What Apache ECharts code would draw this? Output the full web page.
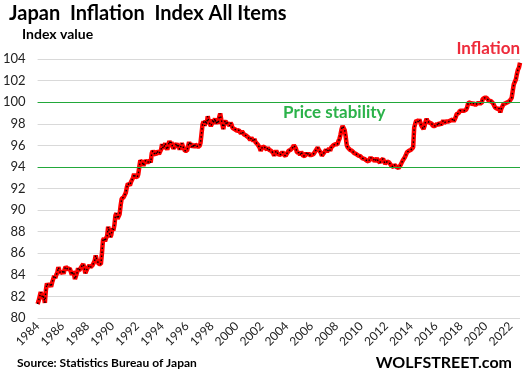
<!DOCTYPE html>
<html><head><meta charset="utf-8">
<script src="https://cdn.jsdelivr.net/npm/echarts@6/dist/echarts.min.js"></script>
<style>html,body{margin:0;padding:0;background:#fff}#c{width:524px;height:378px}</style>
</head><body><div id="c"></div>
<script>
const startYear = 1984;
const y1984 = [81.3, 81.6, 82.0, 82.4, 82.1, 81.8, 82.0, 81.4, 82.6, 83.2, 83.0, 83.1];
const y1985 = [83.1, 82.9, 83.3, 83.6, 83.9, 83.7, 84.0, 84.2, 84.7, 84.4, 84.15, 84.3];
const y1986 = [84.3, 84.1, 84.5, 84.75, 84.8, 84.5, 84.4, 84.6, 84.3, 84.0, 84.3, 84.1];
const y1987 = [83.6, 83.7, 84.2, 84.6, 84.4, 84.3, 84.7, 84.8, 85.0, 84.6, 84.15, 84.3];
const y1988 = [84.6, 84.5, 84.9, 84.7, 84.8, 84.9, 85.0, 85.3, 85.8, 85.4, 85.2, 85.0];
const y1989 = [84.9, 85.0, 86.0, 87.2, 87.4, 87.1, 87.4, 87.6, 88.45, 88.0, 87.5, 87.7];
const y1990 = [88.3, 88.1, 88.6, 89.5, 89.7, 89.2, 89.3, 89.6, 90.4, 91.05, 90.9, 91.2];
const y1991 = [91.3, 91.6, 92.1, 92.45, 92.6, 92.3, 92.6, 92.8, 93.0, 93.35, 93.1, 93.05];
const y1992 = [93.05, 93.3, 94.0, 94.6, 94.7, 94.4, 94.1, 94.4, 94.6, 94.5, 94.4, 94.3];
const y1993 = [94.6, 94.4, 95.25, 95.5, 95.3, 95.4, 95.1, 95.5, 95.6, 95.2, 95.3, 95.6];
const y1994 = [96.1, 95.7, 95.9, 96.2, 95.8, 95.6, 96.0, 96.4, 96.1, 96.3, 95.9, 95.7];
const y1995 = [95.6, 96.0, 96.2, 95.8, 96.0, 95.6, 95.9, 96.2, 95.9, 95.7, 95.5, 95.35];
const y1996 = [95.5, 95.9, 96.3, 96.0, 96.2, 95.8, 96.0, 95.8, 96.1, 96.2, 95.9, 96.0];
const y1997 = [95.9, 96.2, 96.1, 97.95, 98.2, 97.8, 98.3, 98.0, 98.7, 98.2, 98.0, 97.8];
const y1998 = [98.0, 98.4, 98.1, 98.5, 98.0, 98.3, 98.0, 98.6, 98.95, 98.4, 98.0, 97.5];
const y1999 = [98.1, 98.3, 97.9, 98.1, 98.0, 97.8, 98.1, 97.9, 97.6, 97.7, 97.5, 97.5];
const y2000 = [97.35, 97.2, 97.4, 97.3, 97.1, 97.3, 97.2, 97.0, 97.1, 96.9, 96.8, 96.75];
const y2001 = [96.7, 96.5, 96.7, 96.6, 96.4, 96.6, 96.3, 96.4, 96.1, 96.0, 95.8, 95.5];
const y2002 = [95.6, 95.9, 96.0, 95.8, 95.9, 95.6, 95.8, 95.6, 95.7, 95.5, 95.6, 95.3];
const y2003 = [95.05, 95.2, 95.5, 95.3, 95.4, 95.1, 95.0, 95.2, 95.4, 95.2, 95.1, 95.0];
const y2004 = [95.2, 95.3, 95.5, 95.4, 95.6, 95.5, 95.8, 96.0, 96.1, 95.7, 95.35, 95.3];
const y2005 = [95.3, 95.1, 95.4, 95.2, 95.0, 95.1, 95.05, 95.3, 95.1, 95.3, 95.1, 95.0];
const y2006 = [95.1, 95.0, 95.2, 95.3, 95.5, 95.4, 95.8, 95.6, 95.5, 95.3, 95.05, 95.2];
const y2007 = [95.3, 95.4, 95.6, 95.4, 95.5, 95.7, 95.5, 95.8, 95.9, 96.0, 95.9, 96.1];
const y2008 = [96.0, 96.1, 96.4, 96.6, 97.0, 97.5, 97.8, 97.7, 97.4, 96.8, 96.0, 95.8];
const y2009 = [95.8, 95.6, 95.7, 95.5, 95.6, 95.3, 95.4, 95.2, 95.3, 95.05, 95.1, 95.0];
const y2010 = [94.9, 94.8, 94.9, 94.75, 94.8, 94.6, 94.7, 94.5, 94.7, 94.9, 94.7, 94.6];
const y2011 = [94.7, 94.5, 94.6, 94.8, 94.6, 94.7, 94.4, 94.6, 94.7, 94.75, 94.5, 94.3];
const y2012 = [94.3, 94.5, 94.6, 94.4, 94.3, 94.1, 94.2, 94.0, 94.2, 94.1, 94.0, 94.0];
const y2013 = [93.9, 94.0, 94.2, 94.4, 94.6, 94.75, 94.9, 95.1, 95.35, 95.4, 95.5, 95.5];
const y2014 = [95.6, 95.65, 95.8, 97.65, 98.0, 98.3, 98.4, 98.2, 98.4, 98.1, 97.8, 97.7];
const y2015 = [97.5, 97.8, 98.2, 98.45, 98.2, 98.3, 98.1, 98.2, 98.0, 97.8, 97.65, 97.8];
const y2016 = [97.8, 98.0, 97.8, 98.1, 98.0, 97.9, 97.8, 98.3, 98.1, 98.0, 98.2, 98.3];
const y2017 = [98.2, 98.1, 98.3, 98.2, 98.4, 98.2, 98.4, 98.6, 98.9, 98.8, 99.0, 99.2];
const y2018 = [99.35, 99.2, 99.05, 99.2, 99.1, 99.3, 99.5, 99.9, 99.95, 100.0, 99.8, 99.8];
const y2019 = [99.9, 99.8, 99.75, 99.9, 99.9, 99.8, 99.9, 100.0, 99.9, 100.3, 100.35, 100.4];
const y2020 = [100.45, 100.4, 100.3, 100.1, 100.1, 100.1, 100.0, 99.9, 99.8, 99.5, 99.5, 99.4];
const y2021 = [99.3, 99.4, 99.05, 99.4, 99.6, 99.8, 99.7, 99.9, 99.95, 100.0, 100.0, 100.1];
const y2022 = [100.1, 100.4, 101.05, 101.65, 101.8, 102.1, 102.6, 103.0, 103.2, 103.65];

const yearly = [y1984,y1985,y1986,y1987,y1988,y1989,y1990,y1991,y1992,y1993,y1994,y1995,y1996,y1997,y1998,y1999,y2000,y2001,y2002,y2003,y2004,y2005,y2006,y2007,y2008,y2009,y2010,y2011,y2012,y2013,y2014,y2015,y2016,y2017,y2018,y2019,y2020,y2021,y2022];
const referenceLines = [100, 94];
const yTicks = {min: 80, max: 104, interval: 2};

const months = [], values = [];
yearly.forEach((arr, i) => arr.forEach((v, m) => {
  months.push((startYear + i) + '-' + String(m + 1).padStart(2, '0'));
  values.push(v);
}));

const FONT = 'Lato';
const chart = echarts.init(document.getElementById('c'), null, {renderer: 'canvas'});
chart.setOption({
  animation: false,
  backgroundColor: '#fff',
  grid: {left: 34, right: 4, top: 59, bottom: 60, containLabel: false},
  xAxis: {
    type: 'category', data: months, boundaryGap: false,
    axisLine: {show: false}, axisTick: {show: false}, splitLine: {show: false},
    axisLabel: {
      interval: (idx) => idx % 24 === 0, rotate: 45, margin: 6,
      formatter: (v) => v.slice(0, 4), fontFamily: FONT, fontSize: 12, color: '#222'
    }
  },
  yAxis: {
    type: 'value', min: yTicks.min, max: yTicks.max, interval: yTicks.interval,
    axisLine: {show: false}, axisTick: {show: false},
    splitLine: {lineStyle: {color: '#d9d9d9', width: 1}},
    axisLabel: {margin: 12, fontFamily: FONT, fontSize: 13, color: '#222'}
  },
  series: [
    {
      type: 'line', data: values, showSymbol: false, symbol: 'none',
      lineStyle: {color: '#ff0000', width: 4.5}, z: 3,
      markLine: {
        silent: true, symbol: 'none', label: {show: false},
        lineStyle: {color: '#22a83a', width: 1.2, type: 'solid'},
        data: referenceLines.map(v => ({yAxis: v}))
      }
    },
    {
      type: 'line', data: values, showSymbol: false, symbol: 'none',
      lineStyle: {color: '#000', width: 1.4, type: [1.5, 2.5]}, z: 4
    }
  ],
  graphic: [
    {type: 'text', left: 9, top: 4, style: {text: 'Japan  Inflation  Index All Items', font: 'bold 20px ' + FONT, fill: '#000'}},
    {type: 'text', left: 22, top: 27, style: {text: 'Index value', font: 'bold 14px ' + FONT, fill: '#000'}},
    {type: 'text', right: 4, top: 40, style: {text: 'Inflation', font: 'bold 17px ' + FONT, fill: '#ee2b3b'}},
    {type: 'text', left: 283, top: 104, style: {text: 'Price stability', font: 'bold 17px ' + FONT, fill: '#2bb24a'}},
    {type: 'text', left: 17, top: 357, style: {text: 'Source: Statistics Bureau of Japan', font: 'bold 12px ' + FONT, fill: '#000'}},
    {type: 'text', right: 12, top: 355, style: {text: 'WOLFSTREET.com', font: 'bold 16px ' + FONT, fill: '#000'}}
  ]
});
</script></body></html>
